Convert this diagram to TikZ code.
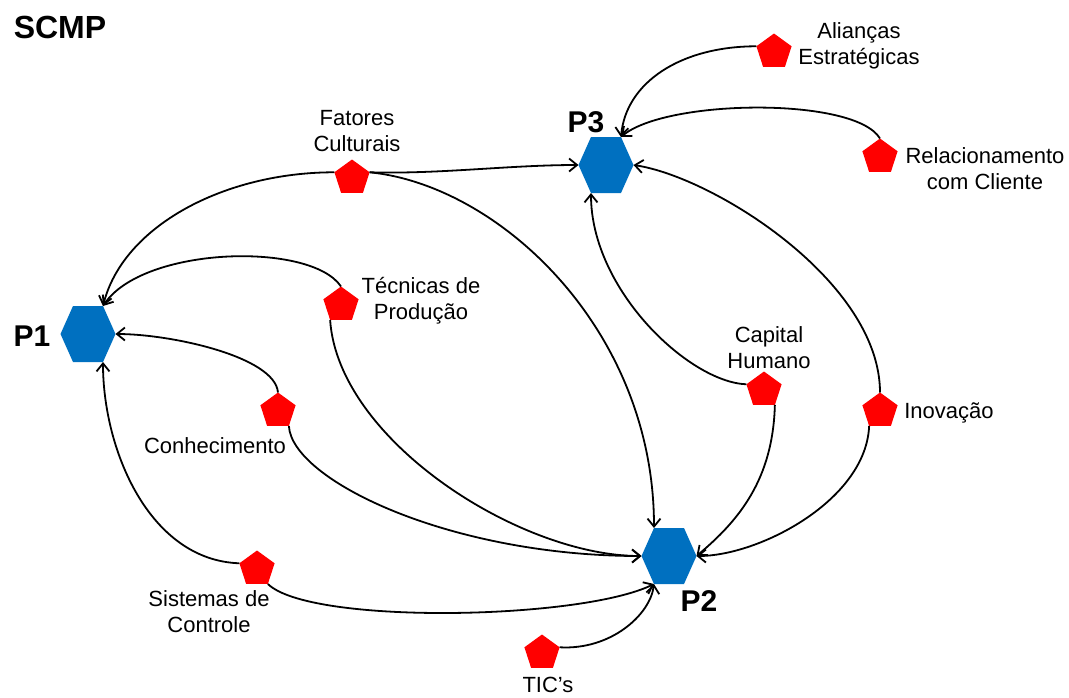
\documentclass[tikz,border=0pt]{standalone}
\usepackage{fontspec}
\setmainfont{Liberation Sans}
\usetikzlibrary{arrows.meta,shapes.geometric}
\definecolor{hexblue}{RGB}{0,112,192}
\definecolor{pentred}{RGB}{255,0,0}
\begin{document}
\begin{tikzpicture}[x=1pt,y=1pt,
  hexnode/.style={rectangle, inner sep=0pt, outer sep=0pt,
    minimum width=55pt, minimum height=56pt,
    path picture={\fill[hexblue]
      (path picture bounding box.west)
      -- ([xshift=12.5pt]path picture bounding box.north west)
      -- ([xshift=-12.5pt]path picture bounding box.north east)
      -- (path picture bounding box.east)
      -- ([xshift=-12.5pt]path picture bounding box.south east)
      -- ([xshift=12.5pt]path picture bounding box.south west) -- cycle;}},
  pent/.style={regular polygon, regular polygon sides=5, fill=pentred,
    minimum size=37pt, inner sep=0pt, outer sep=0pt},
  lbl/.style={font=\fontsize{22}{26}\selectfont, align=center, inner sep=0pt},
  plbl/.style={font=\fontsize{30}{34}\selectfont\bfseries, inner sep=0pt},
  link/.style={draw=black, line width=1.8pt,
    -{Straight Barb[length=8pt,width=13pt]}}
]
\useasboundingbox (0,0) rectangle (1069,-697);

% title
\node[font=\fontsize{32}{36}\selectfont\bfseries, inner sep=0pt] (title) at (60,-27) {SCMP};

% main processes
\node[hexnode] (P1) at (88,-334) {};
\node[hexnode] (P2) at (669,-556) {};
\node[hexnode] (P3) at (606,-165) {};
\node[plbl] (P1l) at (32,-336) {P1};
\node[plbl] (P2l) at (699,-601) {P2};
\node[plbl] (P3l) at (586,-122) {P3};

% factors
\node[pent] (Ali) at (774,-52) {};
\node[pent] (Rel) at (880,-157) {};
\node[pent] (Fat) at (352,-178) {};
\node[pent] (Tec) at (341,-305) {};
\node[pent] (Con) at (278,-411) {};
\node[pent] (Sis) at (257,-569) {};
\node[pent] (TIC) at (542,-653) {};
\node[pent] (Cap) at (764,-390) {};
\node[pent] (Ino) at (880,-411) {};

% factor labels
\node[lbl] (Alil) at (859,-46) {Alianças\\Estratégicas};
\node[lbl] (Rell) at (985,-169) {Relacionamento\\com Cliente};
\node[lbl] (Fatl) at (357,-131) {Fatores\\Culturais};
\node[lbl] (Tecl) at (421,-301) {Técnicas de\\Produção};
\node[lbl] (Conl) at (215,-446) {Conhecimento};
\node[lbl] (Sisl) at (209,-612) {Sistemas de\\Controle};
\node[lbl] (TICl) at (548,-685) {TIC’s};
\node[lbl] (Capl) at (769,-348) {Capital\\Humano};
\node[lbl] (Inol) at (949,-413) {Inovação};

% connectors into P3
\draw[link] (Ali.corner 2) .. controls +(-75,0) and +(5,55) .. ([xshift=-12.5pt]P3.north east);
\draw[link] (Rel.corner 1) .. controls +(-25,42) and +(45,38) .. ([xshift=-12.5pt]P3.north east);
\draw[link] (Fat.corner 5) .. controls +(70,-2) and +(-70,0) .. (P3.west);
\draw[link] (Cap.corner 2) .. controls +(-57,2) and +(0,-97) .. ([xshift=12.5pt]P3.south west);
\draw[link] (Ino.corner 1) .. controls +(0,111) and +(80,-12) .. (P3.east);

% connectors into P1
\draw[link] (Fat.corner 2) .. controls +(-110,0) and +(20,80) .. ([xshift=-12.5pt]P1.north east);
\draw[link] (Tec.corner 1) .. controls +(-30,45) and +(40,60) .. ([xshift=-12.5pt]P1.north east);
\draw[link] (Con.corner 1) .. controls +(-3,36) and +(55,0) .. (P1.east);
\draw[link] (Sis.corner 2) .. controls +(-90,3) and +(0,-88) .. ([xshift=-12.5pt]P1.south east);

% connectors into P2
\draw[link] (Fat.corner 5) .. controls +(130,-13) and +(0,198) .. ([xshift=12.5pt]P2.north west);
\draw[link] (Tec.corner 3) .. controls +(8,-120) and +(-122,0) .. (P2.west);
\draw[link] (Con.corner 4) .. controls +(3,-54) and +(-192,0) .. (P2.west);
\draw[link] (Sis.corner 4) .. controls +(42,-41) and +(-74,-36) .. ([xshift=12.5pt]P2.south west);
\draw[link] (TIC.corner 5) .. controls +(51,-3) and +(-4,-31) .. ([xshift=12.5pt]P2.south west);
\draw[link] (Cap.corner 4) .. controls +(-2,-74) and +(43,36) .. (P2.east);
\draw[link] (Ino.corner 3) .. controls +(-3,-74) and +(63,0) .. (P2.east);
\end{tikzpicture}
\end{document}
